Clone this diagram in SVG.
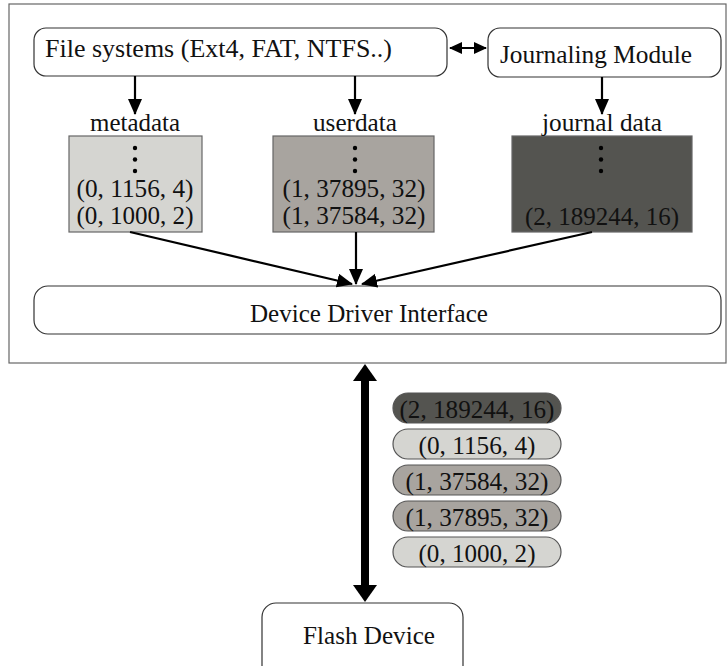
<svg xmlns="http://www.w3.org/2000/svg" width="727" height="666" viewBox="0 0 727 666">
  <style>
    text { font-family: "Liberation Serif", "Times New Roman", serif; font-size: 26px; fill: #111; }
    .box { fill: #fff; stroke: #333; stroke-width: 1.2; }
    .data { stroke: #666; stroke-width: 1.2; }
    .pill { stroke: #555; stroke-width: 1.2; }
    .light { fill: #d5d5d1; }
    .mid { fill: #a8a49f; }
    .dark { fill: #545450; }
    .conn { stroke: #000; stroke-width: 2.2; fill: none; }
    .dot { fill: #000; }
  </style>
  <defs>
    <marker id="arrow" markerWidth="16" markerHeight="16" refX="15" refY="7" orient="auto" markerUnits="userSpaceOnUse">
      <path d="M0,0 L16,7 L0,14 Z" fill="#000"/>
    </marker>
    <marker id="arrowStart" markerWidth="16" markerHeight="16" refX="1" refY="6" orient="auto" markerUnits="userSpaceOnUse">
      <path d="M13,0 L0,6 L13,12 Z" fill="#000"/>
    </marker>
    <marker id="arrowEnd" markerWidth="16" markerHeight="16" refX="12" refY="6" orient="auto" markerUnits="userSpaceOnUse">
      <path d="M0,0 L13,6 L0,12 Z" fill="#000"/>
    </marker>
  </defs>

  <rect width="727" height="666" fill="#fff"/>

  <!-- host-side frame -->
  <rect id="host" x="9" y="4" width="717" height="359" fill="none" stroke="#666" stroke-width="1.2"/>

  <g id="filesystems">
    <rect class="box" x="34" y="28" width="413" height="48" rx="12"/>
    <text x="45" y="57" textLength="347" lengthAdjust="spacingAndGlyphs">File systems (Ext4, FAT, NTFS..)</text>
  </g>

  <g id="journaling">
    <rect class="box" x="488" y="28" width="233" height="49" rx="12"/>
    <text x="500" y="63" textLength="192" lengthAdjust="spacingAndGlyphs">Journaling Module</text>
  </g>

  <g id="metadata">
    <text x="135" y="131" text-anchor="middle" textLength="90" lengthAdjust="spacingAndGlyphs">metadata</text>
    <rect class="data light" x="69" y="136" width="133" height="96"/>
    <circle class="dot" cx="135" cy="148" r="2.2"/>
    <circle class="dot" cx="135" cy="159.5" r="2.2"/>
    <circle class="dot" cx="135" cy="171" r="2.2"/>
    <text x="135" y="197" text-anchor="middle" textLength="117" lengthAdjust="spacingAndGlyphs">(0, 1156, 4)</text>
    <text x="135" y="224" text-anchor="middle" textLength="117" lengthAdjust="spacingAndGlyphs">(0, 1000, 2)</text>
  </g>

  <g id="userdata">
    <text x="355" y="131" text-anchor="middle" textLength="84" lengthAdjust="spacingAndGlyphs">userdata</text>
    <rect class="data mid" x="273" y="136" width="161" height="96"/>
    <circle class="dot" cx="355" cy="148" r="2.2"/>
    <circle class="dot" cx="355" cy="159.5" r="2.2"/>
    <circle class="dot" cx="355" cy="171" r="2.2"/>
    <text x="354" y="197" text-anchor="middle" textLength="143" lengthAdjust="spacingAndGlyphs">(1, 37895, 32)</text>
    <text x="354" y="224" text-anchor="middle" textLength="143" lengthAdjust="spacingAndGlyphs">(1, 37584, 32)</text>
  </g>

  <g id="journaldata">
    <rect class="data dark" x="512" y="136" width="180" height="96"/>
    <text x="602" y="131" text-anchor="middle" textLength="120" lengthAdjust="spacingAndGlyphs">journal data</text>
    <circle class="dot" cx="601" cy="148" r="2.2"/>
    <circle class="dot" cx="601" cy="159.5" r="2.2"/>
    <circle class="dot" cx="601" cy="171" r="2.2"/>
    <text x="602" y="225" text-anchor="middle" textLength="154" lengthAdjust="spacingAndGlyphs">(2, 189244, 16)</text>
  </g>

  <g id="driver">
    <rect class="box" x="34" y="286" width="687" height="48" rx="14"/>
    <text x="369" y="322" text-anchor="middle" textLength="238" lengthAdjust="spacingAndGlyphs">Device Driver Interface</text>
  </g>

  <g id="queue">
    <rect class="pill dark" x="393" y="393" width="168" height="30" rx="15"/>
    <text x="477" y="418" text-anchor="middle" textLength="155" lengthAdjust="spacingAndGlyphs">(2, 189244, 16)</text>
    <rect class="pill light" x="393" y="429" width="168" height="30" rx="15"/>
    <text x="477" y="454" text-anchor="middle" textLength="117" lengthAdjust="spacingAndGlyphs">(0, 1156, 4)</text>
    <rect class="pill mid" x="393" y="465" width="168" height="30" rx="15"/>
    <text x="477" y="490" text-anchor="middle" textLength="143" lengthAdjust="spacingAndGlyphs">(1, 37584, 32)</text>
    <rect class="pill mid" x="393" y="501" width="168" height="30" rx="15"/>
    <text x="477" y="526" text-anchor="middle" textLength="143" lengthAdjust="spacingAndGlyphs">(1, 37895, 32)</text>
    <rect class="pill light" x="393" y="537" width="168" height="30" rx="15"/>
    <text x="477" y="562" text-anchor="middle" textLength="117" lengthAdjust="spacingAndGlyphs">(0, 1000, 2)</text>
  </g>

  <g id="flash">
    <rect class="box" x="262" y="603" width="201" height="80" rx="14"/>
    <text x="369" y="644" text-anchor="middle" textLength="132" lengthAdjust="spacingAndGlyphs">Flash Device</text>
  </g>

  <g id="connectors">
    <line class="conn" x1="450" y1="48" x2="486" y2="48" marker-start="url(#arrowStart)" marker-end="url(#arrowEnd)"/>
    <line class="conn" x1="135" y1="76" x2="135" y2="114" marker-end="url(#arrow)"/>
    <line class="conn" x1="355" y1="76" x2="355" y2="114" marker-end="url(#arrow)"/>
    <line class="conn" x1="602" y1="77" x2="602" y2="114" marker-end="url(#arrow)"/>
    <line class="conn" x1="130" y1="232" x2="352" y2="284" marker-end="url(#arrow)"/>
    <line class="conn" x1="356" y1="232" x2="356" y2="284" marker-end="url(#arrow)"/>
    <line class="conn" x1="592" y1="232" x2="362" y2="284" marker-end="url(#arrow)"/>
    <!-- thick bidirectional link between host and flash -->
    <line x1="365" y1="380" x2="365" y2="586" stroke="#000" stroke-width="8"/>
    <path d="M365,364 L377,381 L353,381 Z" fill="#000"/>
    <path d="M365,602 L377,585 L353,585 Z" fill="#000"/>
  </g>
</svg>
